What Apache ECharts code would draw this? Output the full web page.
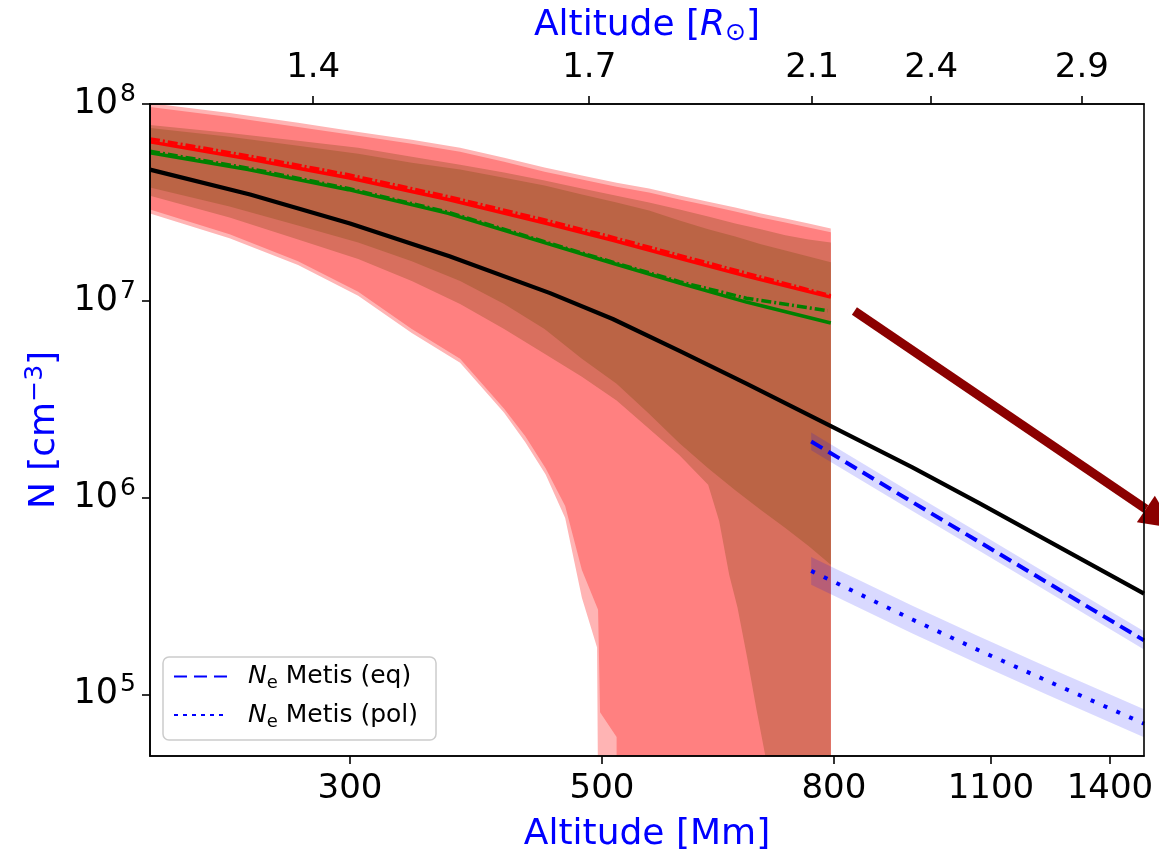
<!DOCTYPE html>
<html><head><meta charset="utf-8">
<script src="https://cdn.jsdelivr.net/npm/echarts@6/dist/echarts.min.js"></script>
<style>html,body{margin:0;padding:0;background:#fff}#c{width:1159px;height:858px}</style>
</head><body><div id="c"></div>
<script>
// ---------- axes / ticks ----------
const RSUN_MM = 696;
const X_TICKS = [300, 500, 800, 1100, 1400];
const TOP_TICKS_RSUN = [1.4, 1.7, 2.1, 2.4, 2.9];
const Y_TICKS = [1e5, 1e6, 1e7, 1e8];

// ---------- lines (altitude Mm, density cm^-3) ----------
const LINE_H = [200, 244, 299, 366, 447, 511, 585, 670, 795];
const RED_N = [6.42e7, 5.27e7, 4.22e7, 3.27e7, 2.47e7, 2.03e7, 1.644e7, 1.334e7, 1.044e7];
const RED_DD_N = [6.65e7, 5.45e7, 4.37e7, 3.38e7, 2.56e7, 2.1e7, 1.70e7, 1.38e7, 1.06e7];
const GREEN_N = [5.65e7, 4.64e7, 3.67e7, 2.78e7, 1.958e7, 1.551e7, 1.229e7, 9.85e6, 7.71e6];
const GREEN_DD_H = [200, 244, 299, 366, 447, 511, 585, 670, 790];
const GREEN_DD_N = [5.75e7, 4.72e7, 3.72e7, 2.82e7, 1.98e7, 1.57e7, 1.25e7, 1.03e7, 8.9e6];

const BLACK_H = [200, 245, 300, 367, 450, 511, 585, 670, 796, 938, 1074, 1230, 1500];
const BLACK_N = [4.64e7, 3.465e7, 2.47e7, 1.683e7, 1.094e7, 8.08e6, 5.57e6, 3.79e6, 2.30e6, 1.425e6, 9.37e5, 6.09e5, 3.25e5];

const METIS_H = [764, 938, 1074, 1230, 1500];
const EQ_N  = [1.929e6, 9.48e5, 5.95e5, 3.73e5, 1.88e5];
const EQ_HI = [2.14e6, 1.052e6, 6.6e5, 4.14e5, 2.09e5];
const EQ_LO = [1.738e6, 8.54e5, 5.36e5, 3.36e5, 1.69e5];
const POL_N  = [4.24e5, 2.40e5, 1.671e5, 1.178e5, 7.1e4];
const POL_HI = [4.99e5, 2.82e5, 1.967e5, 1.387e5, 8.4e4];
const POL_LO = [3.6e5, 2.04e5, 1.42e5, 1.0e5, 6.05e4];

// ---------- uncertainty bands: upper edges on a common grid ----------
const BAND_H = [200, 235, 270, 305, 340, 375, 410, 445, 480, 515, 550, 585, 620, 655, 690, 725, 760, 795];
const PINK_HI = [1.01e8, 9.0e7, 8.02e7, 7.21e7, 6.58e7, 5.99e7, 5.33e7, 4.75e7, 4.33e7, 3.98e7, 3.72e7, 3.43e7, 3.19e7, 2.98e7, 2.78e7, 2.62e7, 2.47e7, 2.33e7];
const SALMON_HI = [9.66e7, 8.59e7, 7.65e7, 6.89e7, 6.28e7, 5.72e7, 5.09e7, 4.53e7, 4.13e7, 3.80e7, 3.55e7, 3.27e7, 3.05e7, 2.84e7, 2.65e7, 2.50e7, 2.36e7, 2.23e7];
const MID_HI = [7.83e7, 7.13e7, 6.50e7, 5.99e7, 5.39e7, 4.91e7, 4.48e7, 4.08e7, 3.72e7, 3.42e7, 3.16e7, 2.91e7, 2.68e7, 2.47e7, 2.31e7, 2.15e7, 2.05e7, 1.98e7];
const BROWN_HI = [7.56e7, 6.81e7, 6.13e7, 5.59e7, 5.03e7, 4.64e7, 4.22e7, 3.85e7, 3.47e7, 3.16e7, 2.88e7, 2.56e7, 2.31e7, 2.12e7, 1.94e7, 1.80e7, 1.68e7, 1.57e7];
// lower edges, each on its own altitude samples
const PINK_LO_H = [200, 235, 270, 305, 340, 375, 410, 428, 446, 464, 480, 495, 498, 795];
const PINK_LO = [2.78e7, 2.08e7, 1.52e7, 1.06e7, 6.86e6, 4.84e6, 2.70e6, 1.91e6, 1.31e6, 7.87e5, 3.10e5, 1.73e5, 1e3, 1e3];
const SALMON_LO_H = [200, 235, 270, 305, 340, 375, 410, 428, 446, 464, 480, 496, 498, 515, 515, 795];
const SALMON_LO = [2.91e7, 2.18e7, 1.59e7, 1.11e7, 7.19e6, 5.07e6, 2.83e6, 2.05e6, 1.41e6, 9.05e5, 4.29e5, 2.69e5, 8.12e4, 6.07e4, 1e3, 1e3];
const MID_LO_H = [200, 235, 270, 305, 340, 375, 410, 445, 480, 515, 550, 585, 620, 634, 647, 658, 671, 684, 698, 712, 795];
const MID_LO = [3.42e7, 2.65e7, 2.05e7, 1.63e7, 1.26e7, 9.62e6, 7.19e6, 5.38e6, 4.11e6, 3.11e6, 2.24e6, 1.64e6, 1.16e6, 7.6e5, 4.05e5, 2.76e5, 1.54e5, 8.31e4, 4.5e4, 1e3, 1e3];
const BROWN_LO_H = BAND_H;
const BROWN_LO = [3.76e7, 3.01e7, 2.41e7, 1.98e7, 1.59e7, 1.26e7, 9.62e6, 7.19e6, 5.07e6, 3.79e6, 2.67e6, 1.89e6, 1.41e6, 1.09e6, 8.64e5, 7.0e5, 5.68e5, 4.55e5];

// ---------- arrow annotation ----------
const ARROW_FROM = [834, 8.87e6];
const ARROW_TO = [1594, 7.0e5];

const FONT = 'DejaVu Sans';
const pairs = (xs, ys) => xs.map((x, i) => [x, ys[i]]);
const topTickH = TOP_TICKS_RSUN.map(r => (r - 1) * RSUN_MM);

function band(name, hiX, hi, loX, lo, fill, z) {
  return {
    type: 'custom', name: name, coordinateSystem: 'cartesian2d', clip: true, silent: true, z: z,
    data: [[hiX[0], hi[0]]],
    renderItem: function (params, api) {
      const pts = [];
      for (let i = 0; i < hiX.length; i++) pts.push(api.coord([hiX[i], hi[i]]));
      for (let i = loX.length - 1; i >= 0; i--) pts.push(api.coord([loX[i], lo[i]]));
      return { type: 'polygon', shape: { points: pts }, style: { fill: fill } };
    }
  };
}
function line(name, xs, ys, color, width, type, z) {
  return {
    type: 'line', name: name, data: pairs(xs, ys), symbol: 'none', showSymbol: false, silent: true,
    smooth: false, z: z, lineStyle: { color: color, width: width, type: type, join: 'round' }, itemStyle: { color: color }
  };
}

const chart = echarts.init(document.getElementById('c'), null, { renderer: 'canvas' });
const option = {
  animation: false,
  grid: { left: 150, right: 15, top: 104, bottom: 99, show: true, borderColor: '#000', borderWidth: 1.6, backgroundColor: 'transparent', z: 10 },
  legend: {
    data: [{ name: 'eq' }, { name: 'pol', lineStyle: { type: [4, 5] } }],
    left: 163, top: 657, orient: 'vertical',
    backgroundColor: '#fff', borderColor: '#cccccc', borderWidth: 1.5, borderRadius: 6,
    padding: [7, 18, 9, 10], itemWidth: 54, itemHeight: 14, itemGap: 10,
    itemStyle: { opacity: 0 },
    textStyle: {
      fontFamily: FONT, fontSize: 25, color: '#000',
      rich: {
        i: { fontFamily: FONT, fontStyle: 'italic', fontSize: 25, padding: [0, 0, 0, 15], lineHeight: 32 },
        s: { fontFamily: FONT, fontSize: 18, verticalAlign: 'bottom', lineHeight: 21 },
        t: { fontFamily: FONT, fontSize: 25, lineHeight: 32 }
      }
    },
    formatter: n => '{i|N}{s|e}{t| Metis (' + n + ')}'
  },
  xAxis: [
    {
      type: 'log', position: 'bottom', min: 200, max: 1500, z: 10,
      name: 'Altitude [Mm]', nameLocation: 'middle', nameGap: 61,
      nameTextStyle: { color: '#0000ff', fontSize: 36, fontFamily: FONT },
      axisLine: { show: true, lineStyle: { color: '#000', width: 1.6 } },
      axisTick: { show: true, length: 8, lineStyle: { color: '#000', width: 1.6 }, customValues: X_TICKS },
      axisLabel: { customValues: X_TICKS, formatter: v => String(Math.round(v)), fontSize: 34, color: '#000', fontFamily: FONT, margin: 16 },
      splitLine: { show: false }, minorTick: { show: false }
    },
    {
      type: 'log', position: 'top', min: 200, max: 1500, z: 10,
      name: '{t|Altitude [}{i|R}{s|⊙}{t|]}', nameLocation: 'middle', nameGap: 52,
      nameTextStyle: {
        color: '#0000ff', fontSize: 36, fontFamily: FONT,
        rich: {
          t: { color: '#0000ff', fontSize: 36, fontFamily: FONT, lineHeight: 40 },
          i: { color: '#0000ff', fontSize: 36, fontFamily: FONT, fontStyle: 'italic', lineHeight: 40 },
          s: { color: '#0000ff', fontSize: 25, fontFamily: FONT, verticalAlign: 'bottom', lineHeight: 30 }
        }
      },
      axisLine: { show: true, lineStyle: { color: '#000', width: 1.6 } },
      axisTick: { show: true, length: 8, lineStyle: { color: '#000', width: 1.6 }, customValues: topTickH },
      axisLabel: {
        customValues: topTickH, fontSize: 34, color: '#000', fontFamily: FONT, margin: 19,
        formatter: v => { let k = 0; topTickH.forEach((h, i) => { if (Math.abs(h - v) < Math.abs(topTickH[k] - v)) k = i; }); return TOP_TICKS_RSUN[k].toFixed(1); }
      },
      splitLine: { show: false }, minorTick: { show: false }
    }
  ],
  yAxis: {
    type: 'log', min: 4.86e4, max: 1e8, z: 10,
    name: '{t|N [cm}{s|−3}{t|]}', nameLocation: 'middle', nameGap: 80, nameRotate: 90,
    nameTextStyle: {
      color: '#0000ff', fontSize: 36, fontFamily: FONT,
      rich: {
        t: { color: '#0000ff', fontSize: 36, fontFamily: FONT, lineHeight: 44 },
        s: { color: '#0000ff', fontSize: 25, fontFamily: FONT, verticalAlign: 'top', lineHeight: 30 }
      }
    },
    axisLine: { show: true, lineStyle: { color: '#000', width: 1.6 } },
    axisTick: { show: true, length: 8, lineStyle: { color: '#000', width: 1.6 }, customValues: Y_TICKS },
    axisLabel: {
      customValues: Y_TICKS, margin: 14, color: '#000', fontFamily: FONT,
      formatter: v => '{b|10}{s|' + Math.round(Math.log10(v)) + '}',
      rich: {
        b: { fontSize: 35, fontFamily: FONT, color: '#000', lineHeight: 44 },
        s: { fontSize: 25, fontFamily: FONT, color: '#000', verticalAlign: 'top', lineHeight: 28, padding: [0, 0, 0, 2] }
      }
    },
    splitLine: { show: false }, minorTick: { show: false }
  },
  series: [
    band('pink', BAND_H, PINK_HI, PINK_LO_H, PINK_LO, '#ffb4b4', 1),
    band('salmon', BAND_H, SALMON_HI, SALMON_LO_H, SALMON_LO, '#ff8080', 1),
    band('mid', BAND_H, MID_HI, MID_LO_H, MID_LO, '#d86f5e', 1),
    band('brown', BAND_H, BROWN_HI, BROWN_LO_H, BROWN_LO, '#bb6445', 1),
    band('eqband', METIS_H, EQ_HI, METIS_H, EQ_LO, 'rgba(0,0,255,0.15)', 2),
    band('polband', METIS_H, POL_HI, METIS_H, POL_LO, 'rgba(0,0,255,0.15)', 2),
    line('black', BLACK_H, BLACK_N, '#000000', 4.2, 'solid', 4),
    line('green', LINE_H, GREEN_N, '#008000', 3.5, 'solid', 4),
    line('greendd', GREEN_DD_H, GREEN_DD_N, '#008000', 3.5, [10, 3, 2, 3], 4),
    line('red', LINE_H, RED_N, '#ff0000', 3.5, 'solid', 4),
    line('reddd', LINE_H, RED_DD_N, '#ff0000', 3.5, [10, 3, 2, 3], 4),
    line('eq', METIS_H, EQ_N, '#0000ff', 4, [13, 7], 5),
    line('pol', METIS_H, POL_N, '#0000ff', 4, [4, 10], 5),
    {
      type: 'custom', name: 'arrow', coordinateSystem: 'cartesian2d', clip: false, silent: true, z: 8,
      data: [ARROW_FROM],
      renderItem: function (params, api) {
        const a = api.coord(ARROW_FROM), b = api.coord(ARROW_TO);
        const dx = b[0] - a[0], dy = b[1] - a[1], L = Math.hypot(dx, dy), ux = dx / L, uy = dy / L;
        const hl = 34, hw = 16;
        const bx = b[0] - ux * hl, by = b[1] - uy * hl;
        return {
          type: 'group', children: [
            { type: 'line', shape: { x1: a[0], y1: a[1], x2: bx, y2: by }, style: { stroke: '#8b0000', lineWidth: 9 } },
            { type: 'polygon', shape: { points: [b, [bx - uy * hw, by + ux * hw], [bx + uy * hw, by - ux * hw]] }, style: { fill: '#8b0000' } }
          ]
        };
      }
    }
  ]
};
chart.setOption(option);
</script></body></html>
